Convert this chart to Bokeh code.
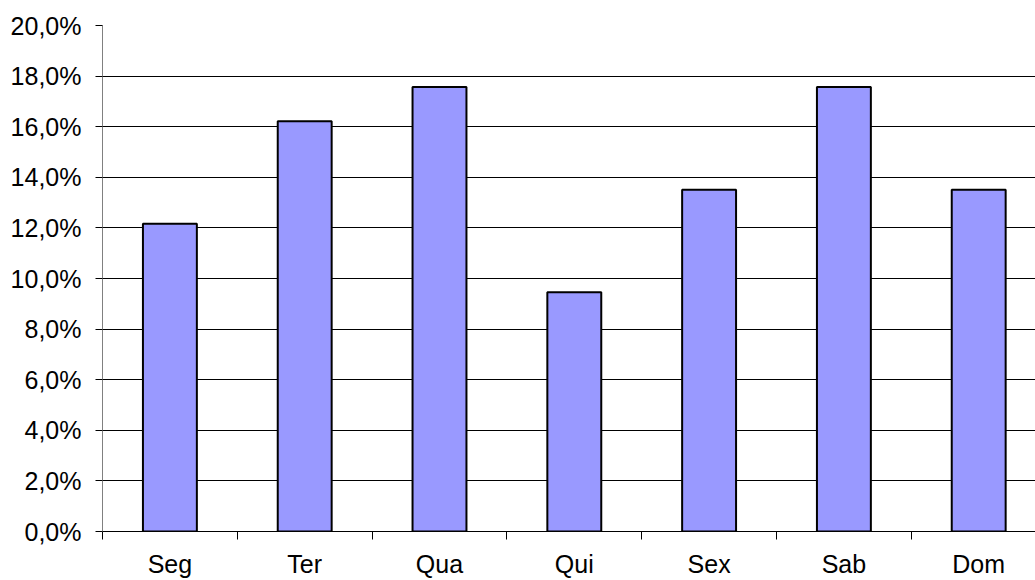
from bokeh.plotting import figure
from bokeh.models import Range1d, FixedTicker, ColumnDataSource, Grid, LinearAxis
from bokeh.embed import file_html
from bokeh.resources import INLINE

days = ["Seg", "Ter", "Qua", "Qui", "Sex", "Sab", "Dom"]
values = [12.16, 16.22, 17.57, 9.46, 13.51, 17.57, 13.51]
y_ticks = [0, 2, 4, 6, 8, 10, 12, 14, 16, 18, 20]
y_tick_labels = ["0,0%", "2,0%", "4,0%", "6,0%", "8,0%", "10,0%", "12,0%",
                 "14,0%", "16,0%", "18,0%", "20,0%"]

FONT = "Liberation Sans"
cat_px = 134.8
frame_w = 1035 - 102

p = figure(width=1035, height=580, output_backend="svg", toolbar_location=None,
           x_range=Range1d(0, frame_w / cat_px), y_range=Range1d(0, 20),
           x_axis_location=None, y_axis_location=None,
           min_border_left=102, min_border_right=0, min_border_top=25,
           min_border_bottom=0)
p.outline_line_color = None
p.background_fill_color = "white"
p.border_fill_color = "white"
p.xgrid.visible = False
p.ygrid.visible = False

xs = [i + 0.5 for i in range(len(days))]
src = ColumnDataSource(dict(x=xs, top=values, day=days))

# gridlines
p.add_layout(Grid(dimension=1, ticker=FixedTicker(ticks=y_ticks[1:-1]),
                  grid_line_color="#000000", grid_line_width=1))
p.add_layout(Grid(dimension=1, ticker=FixedTicker(ticks=[y_ticks[-1]]),
                  grid_line_color="#808080", grid_line_width=1))

p.vbar(x="x", top="top", width=0.4, bottom=0, source=src,
       fill_color="#9999FF", line_color="#000000", line_width=2)

# y axis
yax = LinearAxis(ticker=FixedTicker(ticks=y_ticks),
                 major_label_overrides={t: l for t, l in zip(y_ticks, y_tick_labels)})
yax.axis_line_color = "#808080"
yax.major_tick_line_color = "#000000"
yax.major_tick_out = 7
yax.major_tick_in = 0
yax.minor_tick_line_color = None
yax.major_label_standoff = 14
yax.major_label_text_font = FONT
yax.major_label_text_font_size = "25px"
yax.major_label_text_color = "#000000"
p.add_layout(yax, "left")

# x axis
xax = LinearAxis(ticker=FixedTicker(ticks=xs, minor_ticks=list(range(len(days)))),
                 major_label_overrides={x: d for x, d in zip(xs, days)})
xax.axis_line_color = "#000000"
xax.axis_line_width = 1
xax.major_tick_line_color = None
xax.major_tick_out = 0
xax.major_tick_in = 0
xax.minor_tick_line_color = "#000000"
xax.minor_tick_out = 8
xax.minor_tick_in = 0
xax.major_label_standoff = 10
xax.major_label_text_font = FONT
xax.major_label_text_font_size = "25px"
xax.major_label_text_color = "#000000"
p.add_layout(xax, "below")

open("out.html", "w").write(file_html(p, INLINE))
